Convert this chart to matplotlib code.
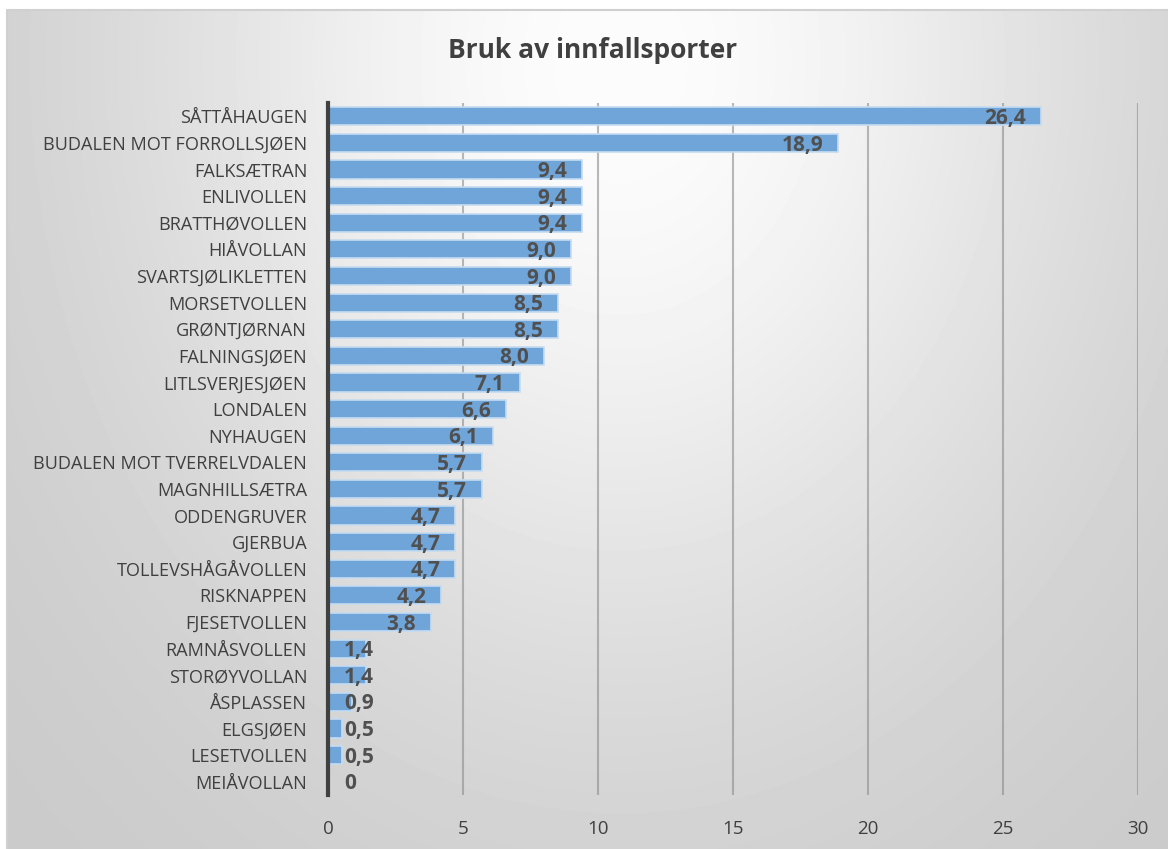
import numpy as np
import matplotlib.pyplot as plt

plt.rcParams['font.family'] = ['Open Sans', 'DejaVu Sans']

categories = ['SÅTTÅHAUGEN', 'BUDALEN MOT FORROLLSJØEN', 'FALKSÆTRAN', 'ENLIVOLLEN',
              'BRATTHØVOLLEN', 'HIÅVOLLAN', 'SVARTSJØLIKLETTEN', 'MORSETVOLLEN',
              'GRØNTJØRNAN', 'FALNINGSJØEN', 'LITLSVERJESJØEN', 'LONDALEN',
              'NYHAUGEN', 'BUDALEN MOT TVERRELVDALEN', 'MAGNHILLSÆTRA', 'ODDENGRUVER',
              'GJERBUA', 'TOLLEVSHÅGÅVOLLEN', 'RISKNAPPEN', 'FJESETVOLLEN',
              'RAMNÅSVOLLEN', 'STORØYVOLLAN', 'ÅSPLASSEN', 'ELGSJØEN',
              'LESETVOLLEN', 'MEIÅVOLLAN']
values = [26.4, 18.9, 9.4, 9.4, 9.4, 9.0, 9.0, 8.5, 8.5, 8.0, 7.1, 6.6, 6.1,
          5.7, 5.7, 4.7, 4.7, 4.7, 4.2, 3.8, 1.4, 1.4, 0.9, 0.5, 0.5, 0]
xticks = [0, 5, 10, 15, 20, 25, 30]

W, H = 1168, 849
fig = plt.figure(figsize=(W / 100, H / 100), dpi=100)

# background: radial grey gradient inside the chart area
bg = fig.add_axes([0, 0, 1, 1], zorder=-5)
bg.set_xlim(0, W)
bg.set_ylim(H, 0)
bg.axis('off')
x0, y0 = 7, 10
gx, gy = np.meshgrid(np.arange(x0, W), np.arange(y0, H))
r = np.sqrt(((gx - 620) / 620) ** 2 + ((gy - 60) / 790) ** 2)
shade = (252 - 52 * (1 - np.exp(-1.6 * r ** 2))) / 255
bg.imshow(shade, cmap='gray', vmin=0, vmax=1, extent=(x0, W, H, y0),
          interpolation='bilinear', aspect='auto')
bg.plot([x0, x0, W], [H, y0, y0], color='#d0d0d0', lw=1.5)

ax = fig.add_axes([328 / W, 1 - 795 / H, 810 / W, 692 / H])
ax.patch.set_alpha(0)
pos = np.arange(len(categories))
ax.barh(pos, values, height=0.68, color='#6fa5d9', edgecolor='#c5dcf0',
        linewidth=1.2, zorder=3)

# data labels: inside end, pushed right of the axis when the bar is short
for p, v in zip(pos, values):
    lab = f'{v:.1f}'.replace('.', ',') if v else '0'
    if v < 2.5:
        ax.text(0.6, p + 0.08, lab, ha='left', va='center', fontsize=15,
                fontweight='bold', color='#505050', zorder=4)
    else:
        ax.text(v - 0.55, p + 0.08, lab, ha='right', va='center', fontsize=15,
                fontweight='bold', color='#505050', zorder=4)

ax.set_ylim(len(categories) - 0.5, -0.5)
ax.set_yticks(pos)
ax.set_yticklabels(categories, fontsize=13.1, color='#404040')
ax.set_xlim(0, 30)
ax.set_xticks(xticks)
ax.set_xticklabels([str(t) for t in xticks], fontsize=13.5, color='#404040')
ax.tick_params(length=0)
ax.tick_params(axis='y', pad=15)
ax.tick_params(axis='x', pad=18)
ax.grid(axis='x', color='#8c8c8c', alpha=0.6, lw=1.5, zorder=1)
for s in ['top', 'right', 'bottom']:
    ax.spines[s].set_visible(False)
ax.spines['left'].set_color('#404040')
ax.spines['left'].set_linewidth(3)
ax.spines['left'].set_zorder(5)

fig.text(593 / W, 1 - 50 / H, 'Bruk av innfallsporter', ha='center', va='center',
         fontsize=19, fontweight='bold', color='#404040')

fig.savefig('out.png', dpi=100)
